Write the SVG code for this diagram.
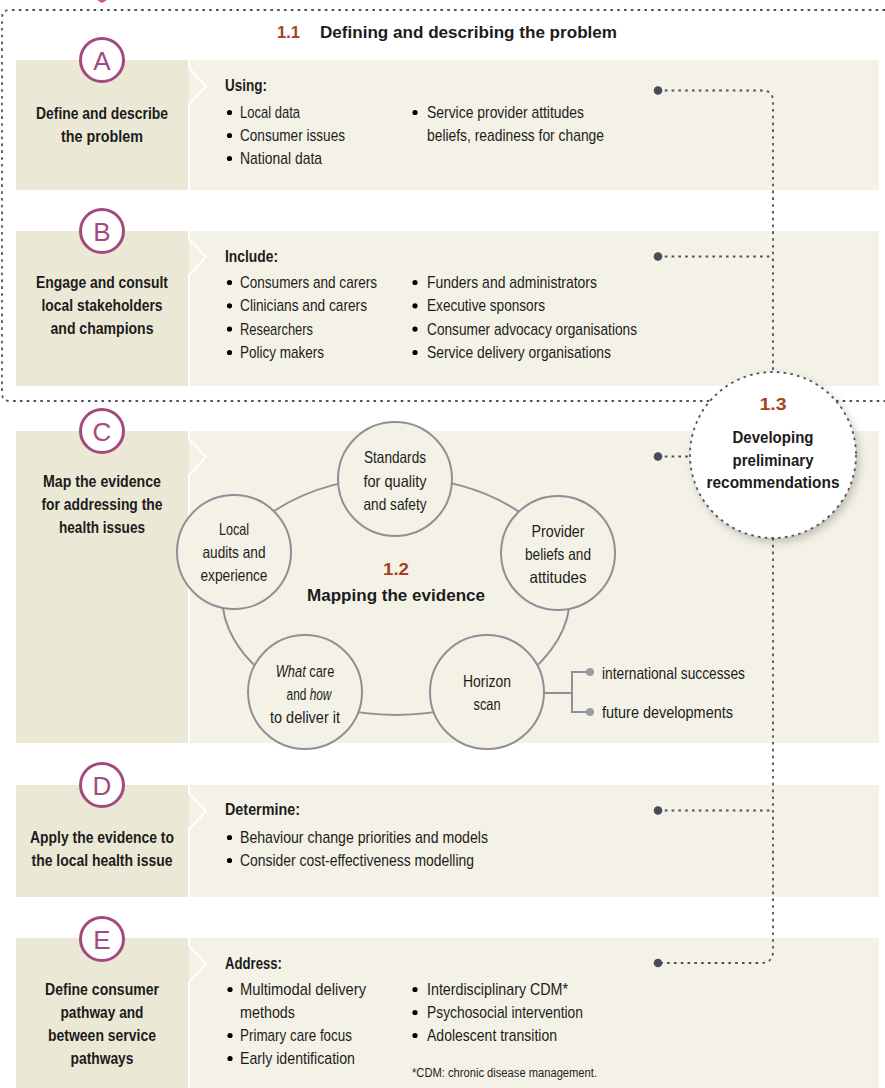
<svg xmlns="http://www.w3.org/2000/svg" width="885" height="1088" viewBox="0 0 885 1088">
<defs>
<style>
text{font-family:"Liberation Sans Narrow","Liberation Sans",Arial,sans-serif;fill:#1c1c1c;font-size:17px}
.b{font-weight:bold}
.h{font-weight:bold;font-size:17px}
.rust{fill:#a3411f;font-weight:bold}
.lp{fill:#ebe8d5}
.rp{fill:#f4f2e6}
.sep{fill:none;stroke:#ffffff;stroke-width:2}
.let{fill:#ffffff;stroke:#a24a7f;stroke-width:3}
.lt{fill:#a24a7f;font-size:26px;font-weight:normal}
.dot{fill:#454e58}
.dl{fill:none;stroke:#4a535d;stroke-width:1.8;stroke-dasharray:2.6 4.2}
.ring{fill:none;stroke:#8f9097;stroke-width:2}
.sc{fill:#f4f2e6;stroke:#8f9097;stroke-width:2}
.ct{font-size:16.5px}
.it{font-style:italic}
.fn{font-size:12px}
</style>
<filter id="sh" x="-30%" y="-30%" width="160%" height="160%">
<feDropShadow dx="3" dy="4" stdDeviation="4" flood-color="#000" flood-opacity="0.22"/>
</filter>
</defs>
<rect width="885" height="1088" fill="#ffffff"/>

<!-- section 1.1 outline -->
<g id="section-1-1">
<path class="dl" d="M885 10 H10 Q2 10 2 18 V393 Q2 401 10 401 H885" stroke="#5a6470"/>
<polygon points="97,0 107,0 102,3" fill="#d0569a"/>
<text x="277" y="38" class="rust" font-size="19.5" textLength="23" lengthAdjust="spacingAndGlyphs">1.1</text>
<text x="320" y="38" class="b" font-size="19.5" textLength="297" lengthAdjust="spacingAndGlyphs">Defining and describing the problem</text>
</g>

<!-- Band A -->
<g id="band-a">
<rect class="lp" x="16" y="60" width="173" height="130"/>
<rect class="rp" x="189" y="60" width="690" height="130"/>
<polyline class="sep" points="189,60 189,68 206,86 189,104 189,190"/>
<circle class="let" cx="102" cy="60" r="21.5"/>
<text x="102" y="69.5" class="lt" text-anchor="middle">A</text>
<text x="102" y="119" class="b" text-anchor="middle" textLength="132" lengthAdjust="spacingAndGlyphs">Define and describe</text>
<text x="102" y="141.5" class="b" text-anchor="middle" textLength="82" lengthAdjust="spacingAndGlyphs">the problem</text>
<text x="225" y="91" class="h" textLength="42" lengthAdjust="spacingAndGlyphs">Using:</text>
<circle cx="229.5" cy="112.5" r="2.6"/><text x="240" y="118" textLength="60" lengthAdjust="spacingAndGlyphs">Local data</text>
<circle cx="229.5" cy="135.5" r="2.6"/><text x="240" y="141" textLength="105" lengthAdjust="spacingAndGlyphs">Consumer issues</text>
<circle cx="229.5" cy="158.5" r="2.6"/><text x="240" y="164" textLength="82" lengthAdjust="spacingAndGlyphs">National data</text>
<circle cx="415" cy="112.5" r="2.6"/><text x="427" y="118" textLength="157" lengthAdjust="spacingAndGlyphs">Service provider attitudes</text>
<text x="427" y="141" textLength="177" lengthAdjust="spacingAndGlyphs">beliefs, readiness for change</text>
</g>

<!-- Band B -->
<g id="band-b">
<rect class="lp" x="16" y="231" width="173" height="155"/>
<rect class="rp" x="189" y="231" width="690" height="155"/>
<polyline class="sep" points="189,231 189,239 206,257 189,275 189,386"/>
<circle class="let" cx="102" cy="231" r="21.5"/>
<text x="102" y="240.5" class="lt" text-anchor="middle">B</text>
<text x="102" y="288" class="b" text-anchor="middle" textLength="132" lengthAdjust="spacingAndGlyphs">Engage and consult</text>
<text x="102" y="311" class="b" text-anchor="middle" textLength="121" lengthAdjust="spacingAndGlyphs">local stakeholders</text>
<text x="102" y="334" class="b" text-anchor="middle" textLength="103" lengthAdjust="spacingAndGlyphs">and champions</text>
<text x="225" y="262" class="h" textLength="53" lengthAdjust="spacingAndGlyphs">Include:</text>
<circle cx="229.5" cy="282.5" r="2.6"/><text x="240" y="288" textLength="137" lengthAdjust="spacingAndGlyphs">Consumers and carers</text>
<circle cx="229.5" cy="305.8" r="2.6"/><text x="240" y="311.3" textLength="127" lengthAdjust="spacingAndGlyphs">Clinicians and carers</text>
<circle cx="229.5" cy="329.1" r="2.6"/><text x="240" y="334.6" textLength="73" lengthAdjust="spacingAndGlyphs">Researchers</text>
<circle cx="229.5" cy="352.5" r="2.6"/><text x="240" y="358" textLength="84" lengthAdjust="spacingAndGlyphs">Policy makers</text>
<circle cx="415" cy="282.5" r="2.6"/><text x="427" y="288" textLength="170" lengthAdjust="spacingAndGlyphs">Funders and administrators</text>
<circle cx="415" cy="305.8" r="2.6"/><text x="427" y="311.3" textLength="118" lengthAdjust="spacingAndGlyphs">Executive sponsors</text>
<circle cx="415" cy="329.1" r="2.6"/><text x="427" y="334.6" textLength="210" lengthAdjust="spacingAndGlyphs">Consumer advocacy organisations</text>
<circle cx="415" cy="352.5" r="2.6"/><text x="427" y="358" textLength="184" lengthAdjust="spacingAndGlyphs">Service delivery organisations</text>
</g>

<!-- Band C -->
<g id="band-c">
<rect class="lp" x="16" y="431" width="173" height="312"/>
<rect class="rp" x="189" y="431" width="690" height="312"/>
<polyline class="sep" points="189,431 189,439 206,457 189,475 189,743"/>
<circle class="let" cx="102" cy="431" r="21.5"/>
<text x="102" y="440.5" class="lt" text-anchor="middle">C</text>
<text x="102" y="487" class="b" text-anchor="middle" textLength="118" lengthAdjust="spacingAndGlyphs">Map the evidence</text>
<text x="102" y="510" class="b" text-anchor="middle" textLength="121" lengthAdjust="spacingAndGlyphs">for addressing the</text>
<text x="102" y="533" class="b" text-anchor="middle" textLength="86" lengthAdjust="spacingAndGlyphs">health issues</text>
</g>

<!-- Mapping the evidence cycle -->
<g id="cycle-ring">
<ellipse class="ring" cx="396" cy="596" rx="174" ry="119"/>
<text x="396" y="575" class="rust" font-size="20" text-anchor="middle" textLength="26" lengthAdjust="spacingAndGlyphs">1.2</text>
<text x="396" y="601" class="b" font-size="20" text-anchor="middle" textLength="178" lengthAdjust="spacingAndGlyphs">Mapping the evidence</text>
</g>
<g id="node-standards">
<circle class="sc" cx="395" cy="479" r="57"/>
<text x="395" y="463" class="ct" text-anchor="middle" textLength="62" lengthAdjust="spacingAndGlyphs">Standards</text>
<text x="395" y="486.5" class="ct" text-anchor="middle" textLength="63" lengthAdjust="spacingAndGlyphs">for quality</text>
<text x="395" y="509.5" class="ct" text-anchor="middle" textLength="63" lengthAdjust="spacingAndGlyphs">and safety</text>
</g>
<g id="node-local">
<circle class="sc" cx="234" cy="552" r="57"/>
<text x="234" y="535" class="ct" text-anchor="middle" textLength="30" lengthAdjust="spacingAndGlyphs">Local</text>
<text x="234" y="558" class="ct" text-anchor="middle" textLength="63" lengthAdjust="spacingAndGlyphs">audits and</text>
<text x="234" y="581" class="ct" text-anchor="middle" textLength="67" lengthAdjust="spacingAndGlyphs">experience</text>
</g>
<g id="node-provider">
<circle class="sc" cx="558" cy="553" r="57"/>
<text x="558" y="537" class="ct" text-anchor="middle" textLength="53" lengthAdjust="spacingAndGlyphs">Provider</text>
<text x="558" y="560" class="ct" text-anchor="middle" textLength="66" lengthAdjust="spacingAndGlyphs">beliefs and</text>
<text x="558" y="583" class="ct" text-anchor="middle" textLength="57" lengthAdjust="spacingAndGlyphs">attitudes</text>
</g>
<g id="node-what">
<circle class="sc" cx="305" cy="692" r="57"/>
<text transform="translate(305,677) scale(0.78,1)" class="ct" text-anchor="middle"><tspan class="it">What</tspan> care</text>
<text transform="translate(309,700) scale(0.72,1)" class="ct" text-anchor="middle">and <tspan class="it">how</tspan></text>
<text x="305" y="723" class="ct" text-anchor="middle" textLength="70" lengthAdjust="spacingAndGlyphs">to deliver it</text>
</g>
<g id="node-horizon">
<circle class="sc" cx="487" cy="692" r="57"/>
<text x="487" y="687" class="ct" text-anchor="middle" textLength="48" lengthAdjust="spacingAndGlyphs">Horizon</text>
<text x="487" y="710" class="ct" text-anchor="middle" textLength="27" lengthAdjust="spacingAndGlyphs">scan</text>
</g>
<g id="horizon-branches">
<path d="M544 693 H572 M589 672 H572 V712 H589" fill="none" stroke="#8f9097" stroke-width="2"/>
<circle cx="590" cy="672" r="4" fill="#9a9ca3"/>
<circle cx="590" cy="712" r="4" fill="#9a9ca3"/>
<text x="602" y="679" class="ct" textLength="143" lengthAdjust="spacingAndGlyphs">international successes</text>
<text x="602" y="718" class="ct" textLength="131" lengthAdjust="spacingAndGlyphs">future developments</text>
</g>

<!-- Band D -->
<g id="band-d">
<rect class="lp" x="16" y="785" width="173" height="112"/>
<rect class="rp" x="189" y="785" width="690" height="112"/>
<polyline class="sep" points="189,785 189,793 206,811 189,829 189,897"/>
<circle class="let" cx="102" cy="785" r="21.5"/>
<text x="102" y="794.5" class="lt" text-anchor="middle">D</text>
<text x="102" y="843" class="b" text-anchor="middle" textLength="144" lengthAdjust="spacingAndGlyphs">Apply the evidence to</text>
<text x="102" y="866" class="b" text-anchor="middle" textLength="141" lengthAdjust="spacingAndGlyphs">the local health issue</text>
<text x="225" y="815" class="h" textLength="75" lengthAdjust="spacingAndGlyphs">Determine:</text>
<circle cx="229.5" cy="837.5" r="2.6"/><text x="240" y="843" textLength="248" lengthAdjust="spacingAndGlyphs">Behaviour change priorities and models</text>
<circle cx="229.5" cy="860.5" r="2.6"/><text x="240" y="866" textLength="234" lengthAdjust="spacingAndGlyphs">Consider cost-effectiveness modelling</text>
</g>

<!-- Band E -->
<g id="band-e">
<rect class="lp" x="16" y="938" width="173" height="150"/>
<rect class="rp" x="189" y="938" width="690" height="150"/>
<polyline class="sep" points="189,938 189,946 206,964 189,982 189,1088"/>
<circle class="let" cx="102" cy="939" r="21.5"/>
<text x="102" y="948.5" class="lt" text-anchor="middle">E</text>
<text x="102" y="995" class="b" text-anchor="middle" textLength="114" lengthAdjust="spacingAndGlyphs">Define consumer</text>
<text x="102" y="1018" class="b" text-anchor="middle" textLength="83" lengthAdjust="spacingAndGlyphs">pathway and</text>
<text x="102" y="1041" class="b" text-anchor="middle" textLength="108" lengthAdjust="spacingAndGlyphs">between service</text>
<text x="102" y="1064" class="b" text-anchor="middle" textLength="63" lengthAdjust="spacingAndGlyphs">pathways</text>
<text x="225" y="969" class="h" textLength="57" lengthAdjust="spacingAndGlyphs">Address:</text>
<circle cx="230" cy="989.5" r="2.6"/><text x="240" y="995" textLength="126" lengthAdjust="spacingAndGlyphs">Multimodal delivery</text>
<text x="240" y="1018" textLength="55" lengthAdjust="spacingAndGlyphs">methods</text>
<circle cx="230" cy="1035.5" r="2.6"/><text x="240" y="1041" textLength="112" lengthAdjust="spacingAndGlyphs">Primary care focus</text>
<circle cx="230" cy="1058.5" r="2.6"/><text x="240" y="1064" textLength="115" lengthAdjust="spacingAndGlyphs">Early identification</text>
<circle cx="415" cy="989.5" r="2.6"/><text x="427" y="995" textLength="141" lengthAdjust="spacingAndGlyphs">Interdisciplinary CDM*</text>
<circle cx="415" cy="1012.5" r="2.6"/><text x="427" y="1018" textLength="156" lengthAdjust="spacingAndGlyphs">Psychosocial intervention</text>
<circle cx="415" cy="1035.5" r="2.6"/><text x="427" y="1041" textLength="130" lengthAdjust="spacingAndGlyphs">Adolescent transition</text>
<text x="412" y="1077" class="fn" textLength="185" lengthAdjust="spacingAndGlyphs">*CDM: chronic disease management.</text>
</g>

<!-- connectors -->
<g id="connectors">
<path class="dl" d="M658 90.5 H762 Q773 90.5 773 101.5 V372"/>
<path class="dl" d="M658 256.5 H773"/>
<path class="dl" d="M658 456.5 H690"/>
<path class="dl" d="M658 810.5 H773"/>
<path class="dl" d="M773 538 V951 Q773 963 761 963 H658"/>
<circle class="dot" cx="658" cy="90.5" r="4.3"/>
<circle class="dot" cx="658" cy="256.5" r="4.3"/>
<circle class="dot" cx="658" cy="456.5" r="4.3"/>
<circle class="dot" cx="658" cy="810.5" r="4.3"/>
<circle class="dot" cx="658" cy="963" r="4.3"/>
</g>

<!-- 1.3 node -->
<g id="node-1-3">
<circle cx="773" cy="455" r="83" fill="#ffffff" filter="url(#sh)"/>
<circle cx="773" cy="455" r="83" class="dl"/>
<text x="773" y="410" class="rust" font-size="19" text-anchor="middle" textLength="27" lengthAdjust="spacingAndGlyphs">1.3</text>
<text x="773" y="443" class="b" font-size="20" text-anchor="middle" textLength="81" lengthAdjust="spacingAndGlyphs">Developing</text>
<text x="773" y="465.5" class="b" font-size="20" text-anchor="middle" textLength="81" lengthAdjust="spacingAndGlyphs">preliminary</text>
<text x="773" y="488" class="b" font-size="20" text-anchor="middle" textLength="133" lengthAdjust="spacingAndGlyphs">recommendations</text>
</g>
</svg>
